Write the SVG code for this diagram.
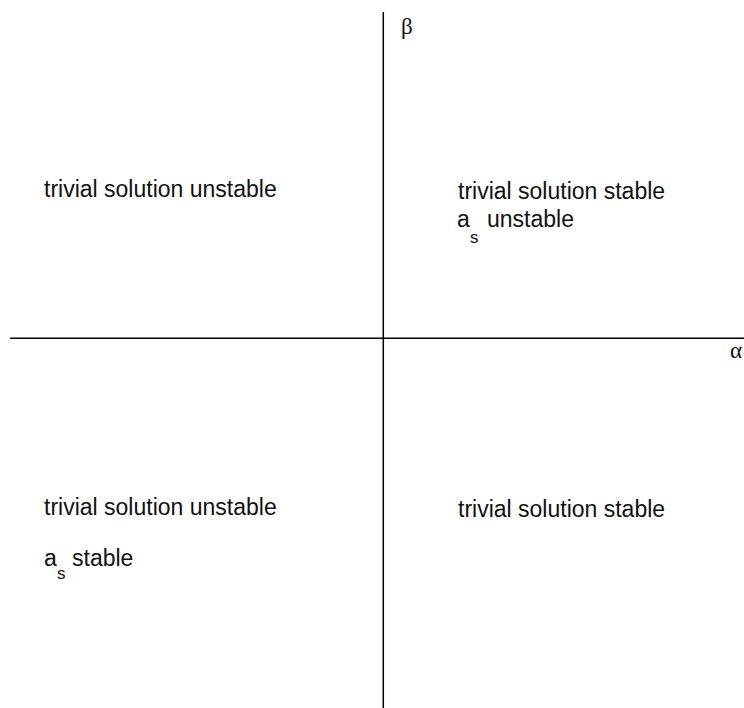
<svg xmlns="http://www.w3.org/2000/svg" width="744" height="708" viewBox="0 0 744 708">
<style>
.t{font-family:"Liberation Sans",Arial,sans-serif;font-size:23px;fill:#111}
.sub{font-family:"Liberation Sans",Arial,sans-serif;font-size:17px;fill:#111}
.g{font-family:"Liberation Serif","Times New Roman",serif;font-size:23px;fill:#111}
.ax{stroke:#000;stroke-width:1.5;fill:none}
</style>
<rect width="744" height="708" fill="#fff"/>
<g id="axes">
<line class="ax" x1="10" y1="338.3" x2="744" y2="338.3"/>
<line class="ax" x1="383.3" y1="12" x2="383.3" y2="708"/>
</g>
<g id="beta"><text class="g" x="401" y="34">β</text></g>
<g id="alpha"><text class="g" x="730" y="358">α</text></g>
<g id="q2"><text class="t" x="44" y="197">trivial solution unstable</text></g>
<g id="q1">
<text class="t" x="458" y="199">trivial solution stable</text>
<text class="t" x="457" y="227">a</text><text class="sub" x="470" y="243">s</text><text class="t" x="487" y="227">unstable</text>
</g>
<g id="q3">
<text class="t" x="44" y="515">trivial solution unstable</text>
<text class="t" x="44" y="566">a</text><text class="sub" x="57" y="579">s</text><text class="t" x="72" y="566">stable</text>
</g>
<g id="q4"><text class="t" x="458" y="517">trivial solution stable</text></g>
</svg>
